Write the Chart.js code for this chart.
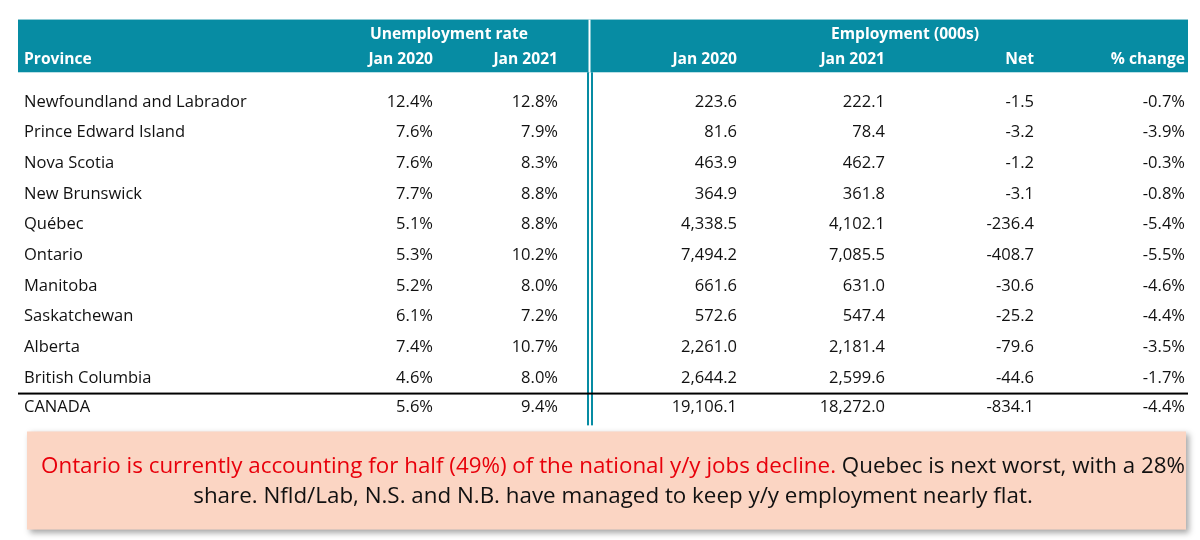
<!DOCTYPE html><html><head><meta charset="utf-8">
<script src="https://cdn.jsdelivr.net/npm/chart.js@4/dist/chart.umd.min.js"></script>
<style>html,body{margin:0;padding:0;background:#fff}#w{width:1200px;height:540px}</style></head><body><div id="w"><canvas id="c"></canvas></div>
<script>
const provinces=["Newfoundland and Labrador","Prince Edward Island","Nova Scotia","New Brunswick","Québec","Ontario","Manitoba","Saskatchewan","Alberta","British Columbia","CANADA"];
const unemp2020=["12.4%","7.6%","7.6%","7.7%","5.1%","5.3%","5.2%","6.1%","7.4%","4.6%","5.6%"];
const unemp2021=["12.8%","7.9%","8.3%","8.8%","8.8%","10.2%","8.0%","7.2%","10.7%","8.0%","9.4%"];
const emp2020=["223.6","81.6","463.9","364.9","4,338.5","7,494.2","661.6","572.6","2,261.0","2,644.2","19,106.1"];
const emp2021=["222.1","78.4","462.7","361.8","4,102.1","7,085.5","631.0","547.4","2,181.4","2,599.6","18,272.0"];
const netChange=["-1.5","-3.2","-1.2","-3.1","-236.4","-408.7","-30.6","-25.2","-79.6","-44.6","-834.1"];
const pctChange=["-0.7%","-3.9%","-0.3%","-0.8%","-5.4%","-5.5%","-4.6%","-4.4%","-3.5%","-1.7%","-4.4%"];
const groupHeaders=["Unemployment rate","Employment (000s)"];
const colHeaders=["Province","Jan 2020","Jan 2021","Jan 2020","Jan 2021","Net","% change"];
const noteRed="Ontario is currently accounting for half (49%) of the national y/y jobs decline.";
const noteRest1=" Quebec is next worst, with a 28%";
const noteRest2="share. Nfld/Lab, N.S. and N.B. have managed to keep y/y employment nearly flat.";

const columns=[provinces,unemp2020,unemp2021,emp2020,emp2021,netChange,pctChange];
const colX=[24,433,558,737,885,1034,1185];
const colAlign=["left","right","right","right","right","right","right"];
const TEAL="#078ca3", FONT="'Open Sans', Lato, sans-serif";
const rowY=i=>i<10?i:i-0.05;

function fitFont(ctx,weight,text,w,base){ctx.font=weight+base+"px "+FONT;const s=w/ctx.measureText(text).width;ctx.font=weight+(base*s).toFixed(2)+"px "+FONT;}

const tablePlugin={id:'table',afterDatasetsDraw(chart){
 const ctx=chart.ctx,x=chart.scales.x,y=chart.scales.y;
 const px=v=>x.getPixelForValue(v), py=v=>y.getPixelForValue(v);
 ctx.save();
 const hTop=py(-2.69), hBot=py(-0.97);
 ctx.fillStyle=TEAL; ctx.fillRect(px(18),hTop,px(1188)-px(18),hBot-hTop);
 ctx.fillStyle="#fff"; ctx.fillRect(px(588.5),hTop,2,hBot-hTop);
 ctx.fillStyle=TEAL; ctx.fillRect(px(587),hBot,2,py(10.55)-hBot); ctx.fillRect(px(591),hBot,2,py(10.55)-hBot);
 ctx.textBaseline="middle"; ctx.fillStyle="#fff";
 fitFont(ctx,"bold ",groupHeaders[0],158,15);
 ctx.textAlign="center";
 ctx.fillText(groupHeaders[0],px(449),py(-2.2));
 ctx.fillText(groupHeaders[1],px(905),py(-2.2));
 colHeaders.forEach((h,j)=>{ctx.textAlign=colAlign[j];ctx.fillText(h,px(colX[j]),py(-1.38));});
 ctx.fillStyle="#111"; fitFont(ctx,"",provinces[0],223,15);
 columns.forEach((col,j)=>{ctx.textAlign=colAlign[j];col.forEach((v,i)=>ctx.fillText(v,px(colX[j]),py(rowY(i))));});
 ctx.fillStyle="#000"; ctx.fillRect(px(18),py(9.48),px(1188)-px(18),2);
 const bT=py(10.75),bB=py(13.95);
 ctx.shadowColor="rgba(0,0,0,0.35)";ctx.shadowBlur=6;ctx.shadowOffsetX=3;ctx.shadowOffsetY=3;
 ctx.fillStyle="#fbd5c3"; ctx.fillRect(px(27),bT,px(1186)-px(27),bB-bT);
 ctx.shadowColor="transparent";
 fitFont(ctx,"",noteRed+noteRest1,1144,20); ctx.textAlign="left";
 const wa=ctx.measureText(noteRed).width, w1=wa+ctx.measureText(noteRest1).width, cx=px(613);
 const sx=cx-w1/2; ctx.fillStyle="#e8000b"; ctx.fillText(noteRed,sx,py(11.9));
 ctx.fillStyle="#111"; ctx.fillText(noteRest1,sx+wa,py(11.9));
 ctx.textAlign="center"; ctx.fillText(noteRest2,cx,py(12.88));
 ctx.restore();
}};
new Chart(document.getElementById('c'),{type:'scatter',
 data:{datasets:[{data:provinces.map((p,i)=>({x:colX[0],y:rowY(i)})),pointRadius:0}]},
 options:{responsive:true,maintainAspectRatio:false,animation:false,layout:{padding:0},
  plugins:{legend:{display:false},tooltip:{enabled:false}},
  scales:{x:{type:'linear',min:0,max:1200,display:false},
          y:{type:'linear',min:-102/30.65,max:(540-102)/30.65,reverse:true,display:false}}},
 plugins:[tablePlugin]});
</script></body></html>
